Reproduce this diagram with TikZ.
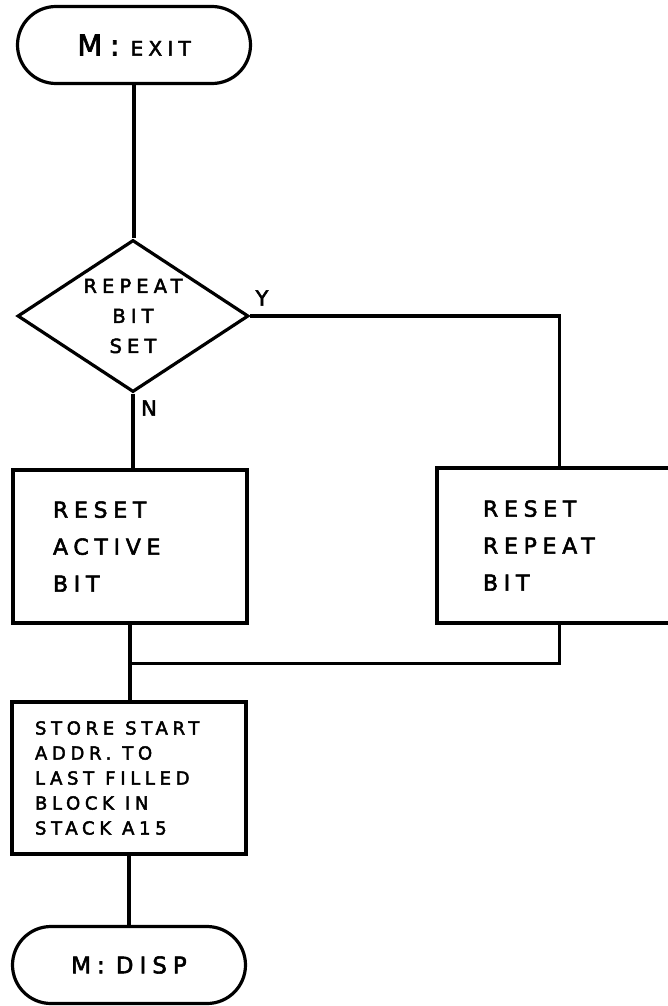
\documentclass[tikz,border=0pt]{standalone}
\usepackage{fontspec}
\newfontfamily\hand{DejaVu Sans}[LetterSpace=26,FakeBold=2.4]
\newcommand\gap{\hspace{11pt}}
\usetikzlibrary{shapes.geometric,shapes.misc}
\begin{document}
\begin{tikzpicture}[x=1pt,y=-1pt,
  flow/.style={line width=3.2pt},
  term/.style={rounded rectangle, draw, line width=3.2pt, minimum width=233pt, minimum height=77pt, inner sep=0pt, font=\hand\fontsize{23}{26}\selectfont},
  proc/.style={rectangle, draw, line width=3.2pt, align=left, inner ysep=0pt, font=\hand\fontsize{22}{37}\selectfont},
  decide/.style={diamond, draw, line width=3.2pt, aspect=1.52, inner sep=0pt, minimum width=231pt, minimum height=152pt, align=center, font=\hand\fontsize{19.5}{30}\selectfont},
  lbl/.style={font=\hand\fontsize{21}{22}\selectfont, inner sep=0pt}]
\useasboundingbox[fill=white] (0,0) rectangle (667,1006);

\node[term] (exit) at (134,45) {{\fontsize{29}{29}\selectfont M:}\gap{\fontsize{20}{24}\selectfont EXIT}};
\node[decide] (dec) at (133,316) {REPEAT\\BIT\\SET};
\node[proc, minimum width=234pt, minimum height=153pt, inner xsep=40pt, text width=154pt] (act) at (130,546.5) {RESET\\ACTIVE\\BIT};
\node[proc, minimum width=235pt, minimum height=155pt, inner xsep=46pt, text width=143pt] (rep) at (554.5,545.5) {RESET\\REPEAT\\BIT};
\node[proc, font=\hand\fontsize{18}{25}\selectfont, minimum width=234pt, minimum height=152pt, inner xsep=23pt, text width=188pt] (store) at (129,778) {STORE\gap START\\ADDR.\gap TO\\LAST\gap FILLED\\BLOCK\gap IN\\STACK\gap A15};
\node[term] (disp) at (129,965) {M:\gap DISP};

\node[lbl] (ylab) at (262,298) {Y};
\node[lbl] (nlab) at (149,408) {N};

\coordinate (join) at ([yshift=-39pt]act.south);

\draw[flow] (exit.south) -- (exit.south |- dec.north);
\draw[flow] (dec.east) -| ([xshift=5pt]rep.north);
\draw[flow] (dec.south) -- (dec.south |- act.north);
\draw[flow] (act.south) -- (act.south |- store.north);
\draw[flow] (join) -| ([xshift=5pt]rep.south);
\draw[flow] (store.south) -- (store.south |- disp.north);
\end{tikzpicture}
\end{document}
